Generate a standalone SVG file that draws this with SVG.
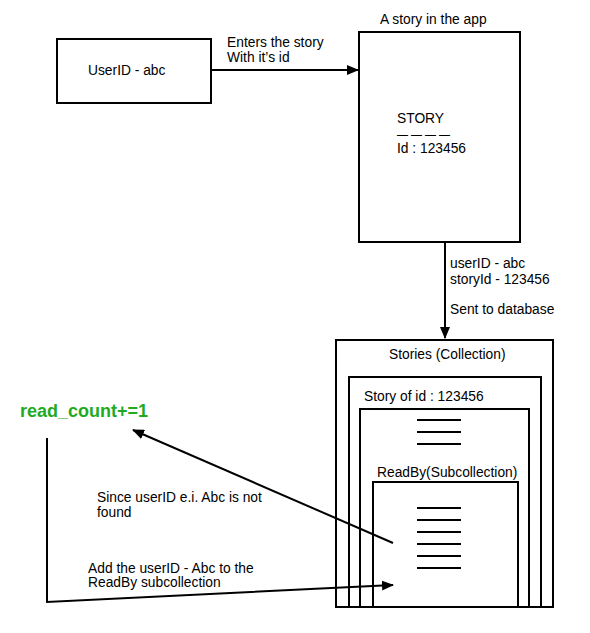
<svg xmlns="http://www.w3.org/2000/svg" width="590" height="633" viewBox="0 0 590 633">
<style>
  .box{fill:#fff;stroke:#000;stroke-width:2}
  .ln{stroke:#000;stroke-width:2;fill:none}
  .conn{stroke:#000;stroke-width:2;fill:none}
  text{font-family:"Liberation Sans",Arial,sans-serif;font-size:13.8px;fill:#000}
  .green{font-weight:bold;font-size:18px;fill:#1faa1f}
</style>
<defs>
  <marker id="ah" markerUnits="userSpaceOnUse" markerWidth="12" markerHeight="10" refX="11" refY="5" orient="auto">
    <path d="M0,0 L12,5 L0,10 z" fill="#000"/>
  </marker>
</defs>
<rect width="590" height="633" fill="#fff"/>
<g id="user">
  <rect class="box" x="57" y="39" width="154" height="64"/>
  <text x="88" y="75">UserID - abc</text>
</g>
<g id="story">
  <text x="380" y="24">A story in the app</text>
  <rect class="box" x="359" y="32" width="161" height="210"/>
  <text x="397" y="123">STORY</text>
  <text x="397" y="138.5" textLength="53" lengthAdjust="spacingAndGlyphs">— — — —</text>
  <text x="397" y="153">Id : 123456</text>
</g>
<g id="stories">
  <rect class="box" x="336" y="340" width="217" height="267"/>
  <text x="389" y="359">Stories (Collection)</text>
</g>
<g id="story-doc">
  <rect class="box" x="349" y="377" width="192" height="230"/>
  <text x="364" y="401">Story of id : 123456</text>
</g>
<g id="story-fields">
  <rect class="box" x="360" y="409" width="169" height="198"/>
  <path class="ln" d="M417,420H461M417,432H461M417,444H461"/>
  <text x="377" y="477">ReadBy(Subcollection)</text>
</g>
<g id="readby">
  <rect class="box" x="373" y="482" width="145" height="125"/>
  <path class="ln" d="M417,508H461M417,520H461M417,532H461M417,544H461M417,556H461M417,568H461"/>
</g>
<g id="read-count">
  <text class="green" x="20" y="417">read_count+=1</text>
</g>
<g id="connectors">
  <line class="conn" x1="211" y1="70" x2="358" y2="70" marker-end="url(#ah)"/>
  <line class="conn" x1="445" y1="242" x2="445" y2="338" marker-end="url(#ah)"/>
  <line class="conn" x1="393" y1="543" x2="133" y2="430" marker-end="url(#ah)"/>
  <polyline class="conn" points="47,438 47,602 393,585" marker-end="url(#ah)"/>
  <text x="227" y="47">Enters the story</text>
  <text x="227" y="62">With it’s id</text>
  <text x="450" y="268">userID - abc</text>
  <text x="450" y="284">storyId - 123456</text>
  <text x="450" y="314">Sent to database</text>
  <text x="97" y="502">Since userID e.i. Abc is not</text>
  <text x="97" y="517">found</text>
  <text x="88" y="573">Add the userID - Abc to the</text>
  <text x="88" y="587">ReadBy subcollection</text>
</g>
</svg>
